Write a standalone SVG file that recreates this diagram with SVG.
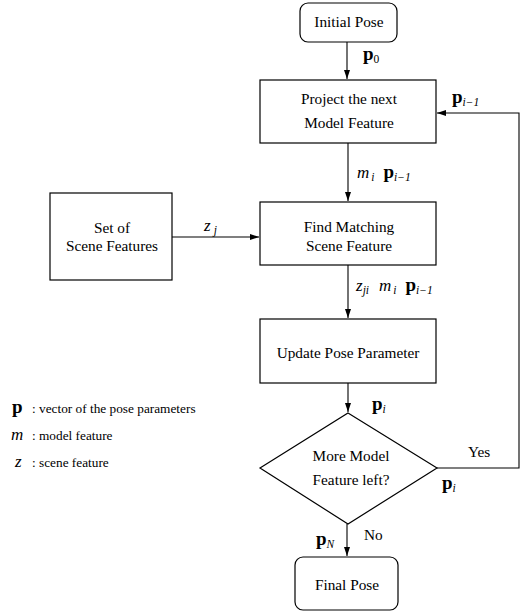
<svg xmlns="http://www.w3.org/2000/svg" width="521" height="614" viewBox="0 0 521 614" font-family="'Liberation Serif', 'DejaVu Serif', serif">
<style>
.box{fill:#fff;stroke:#000;stroke-width:1.2}
.ln{fill:none;stroke:#000;stroke-width:1.1}
text{font-family:'Liberation Serif','DejaVu Serif',serif;fill:#000}
.t{font-size:15.3px;text-anchor:middle}
.b{font-weight:bold;font-size:19px}
.i{font-style:italic;font-size:17px}
.sub{font-size:11.5px;font-style:italic;font-weight:normal}
.subn{font-size:11.5px;font-style:normal;font-weight:normal}
.lg{font-size:13.3px}
</style>
<defs>
<marker id="ah" markerWidth="10" markerHeight="8" refX="9" refY="4" orient="auto" markerUnits="userSpaceOnUse">
<path d="M0,1 L9,4 L0,7 Z" fill="#000"/>
</marker>
</defs>
<g id="initial"><rect class="box" x="300" y="3" width="97" height="39" rx="8"/><text class="t" x="349" y="27">Initial Pose</text></g>
<g id="project"><rect class="box" x="260" y="80" width="176" height="63"/><text class="t" x="349" y="104">Project the next</text><text class="t" x="349" y="128">Model Feature</text></g>
<g id="scene"><rect class="box" x="50" y="193" width="122" height="87"/><text class="t" x="112" y="233">Set of</text><text class="t" x="112" y="251">Scene Features</text></g>
<g id="find"><rect class="box" x="260" y="202" width="176" height="63"/><text class="t" x="349" y="232">Find Matching</text><text class="t" x="349" y="251">Scene Feature</text></g>
<g id="update"><rect class="box" x="260" y="319" width="176" height="64"/><text class="t" x="348" y="358">Update Pose Parameter</text></g>
<g id="decision"><polygon class="box" points="348,413 437,468 348,524 260,468"/><text class="t" x="351" y="461">More Model</text><text class="t" x="351" y="485">Feature left?</text></g>
<g id="final"><rect class="box" x="295" y="557" width="103" height="53" rx="8"/><text class="t" x="347" y="590">Final Pose</text></g>
<g id="connectors">
<line class="ln" x1="347" y1="42" x2="347" y2="79" marker-end="url(#ah)"/>
<line class="ln" x1="348" y1="143" x2="348" y2="201" marker-end="url(#ah)"/>
<line class="ln" x1="172" y1="237" x2="259" y2="237" marker-end="url(#ah)"/>
<line class="ln" x1="348" y1="265" x2="348" y2="318" marker-end="url(#ah)"/>
<line class="ln" x1="348" y1="383" x2="348" y2="412" marker-end="url(#ah)"/>
<line class="ln" x1="347" y1="524" x2="347" y2="556" marker-end="url(#ah)"/>
<polyline class="ln" points="437,468 519,468 519,113 437,113" marker-end="url(#ah)"/>
</g>
<g id="labels">
<text x="363" y="60" class="b">p<tspan class="subn" dy="3">0</tspan></text>
<text x="357" y="178"><tspan class="i">m</tspan><tspan class="sub" dy="3" dx="2">i</tspan><tspan class="b" dy="-3" dx="9">p</tspan><tspan class="sub" dy="3">i−1</tspan></text>
<text x="204" y="231"><tspan class="i">z</tspan><tspan class="sub" dy="3" dx="3">j</tspan></text>
<text x="356" y="291"><tspan class="i">z</tspan><tspan class="sub" dy="3">ji</tspan><tspan class="i" dy="-3" dx="10">m</tspan><tspan class="sub" dy="3" dx="2">i</tspan><tspan class="b" dy="-3" dx="9">p</tspan><tspan class="sub" dy="3">i−1</tspan></text>
<text x="372" y="410" class="b">p<tspan class="sub" dy="3">i</tspan></text>
<text x="452" y="103" class="b">p<tspan class="sub" dy="3">i−1</tspan></text>
<text x="468" y="457" font-size="15.3">Yes</text>
<text x="442" y="489" class="b">p<tspan class="sub" dy="3">i</tspan></text>
<text x="364" y="540" font-size="15.3">No</text>
<text x="316" y="545" class="b">p<tspan class="sub" dy="3">N</tspan></text>
</g>
<g id="legend">
<text x="12" y="413" class="b">p</text><text x="32" y="413" class="lg">: vector of the pose parameters</text>
<text x="11" y="440" class="i" font-size="18">m</text><text x="32" y="440" class="lg">: model feature</text>
<text x="15" y="467" class="i" font-size="18">z</text><text x="32" y="467" class="lg">: scene feature</text>
</g>
</svg>
